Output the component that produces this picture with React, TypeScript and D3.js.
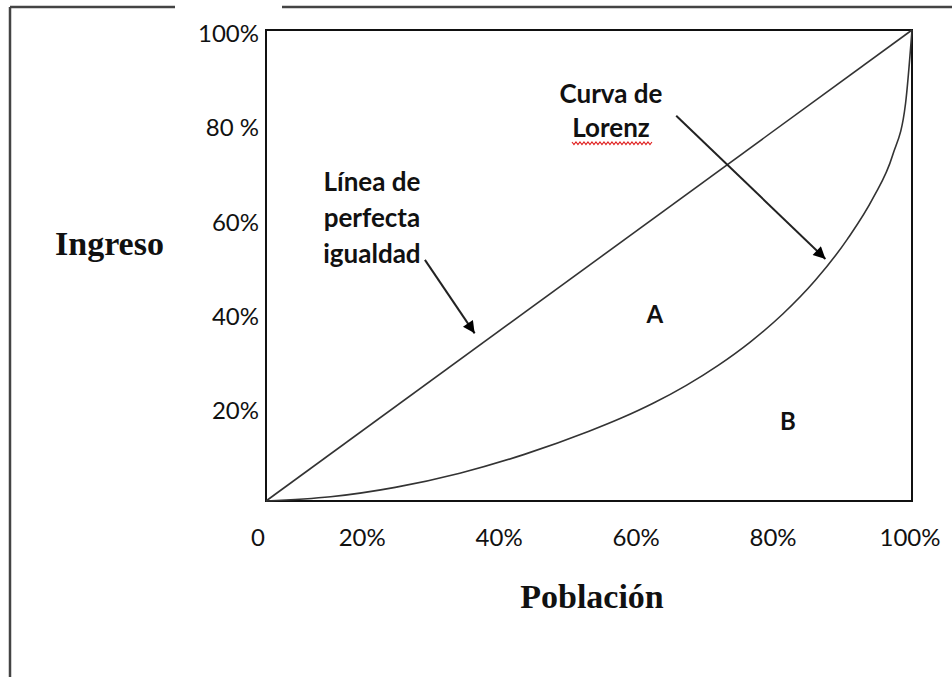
import React from "react";
import * as d3 from "d3";

// ---- data ----
const popShare = [0, 10, 20, 30, 40, 50, 55, 60, 65, 70, 75, 80, 85, 90, 94, 97, 99, 100];
const incomeShare = [0, 0.9, 2.9, 5.9, 9.9, 14.8, 17.6, 20.8, 24.5, 28.8, 33.8, 39.7, 46.8, 55.6, 64.4, 73.4, 84.4, 100];
const equality = [0, 100];

const yTickValues = [100, 80, 60, 40, 20];
const yTickLabels = ["100%", "80 %", "60%", "40%", "20%"];
const xTickValues = [0, 20, 40, 60, 80, 100];
const xTickLabels = ["0", "20%", "40%", "60%", "80%", "100%"];

// annotation texts (data coordinates in %)
const lorenzLabelLines = ["Curva de", "Lorenz"];
const equalityLabelLines = ["Línea de", "perfecta", "igualdad"];
const regionLabels = [
  { text: "A", x: 60.2, y: 37.8 },
  { text: "B", x: 80.8, y: 15.1 },
];
const arrows = [
  { x1: 63.5, y1: 81.8, x2: 86.6, y2: 51.4 },
  { x1: 24.6, y1: 51.2, x2: 32.3, y2: 35.6 },
];

const W = 952;
const H = 677;

export default function App() {
  const x = d3.scaleLinear().domain([0, 100]).range([266, 912]);
  const y = d3.scaleLinear().domain([0, 100]).range([501, 30]);
  // tick labels are placed slightly left of the true positions in the source
  const xLabel = d3.scaleLinear().domain([20, 100]).range([x(20) - 33, x(100) - 2]);

  const line = d3
    .line<[number, number]>()
    .x((d) => x(d[0]))
    .y((d) => y(d[1]))
    .curve(d3.curveMonotoneX);

  const lorenzPts: [number, number][] = popShare.map((p, i) => [p, incomeShare[i]]);
  const eqPts: [number, number][] = equality.map((p) => [p, p]);

  const calibri = "Lato, 'Open Sans', sans-serif";
  const serif = "'Liberation Serif', 'DejaVu Serif', serif";

  // wavy underline under "Lorenz"
  const lorCx = x(53.4);
  const lorBase = y(84.5) + 34;
  const wave: [number, number][] = [];
  for (let i = 0; i <= 40; i++) {
    const px = lorCx - 39 + i * 2;
    wave.push([px, lorBase + 5 + (i % 2 === 0 ? 0 : 2.5)]);
  }
  const wavePath = d3.line()(wave) || "";

  return (
    <svg
      width={W}
      height={H}
      style={{ position: "absolute", left: 0, top: 0, background: "#fff" }}
    >
      <defs>
        <marker
          id="ah"
          viewBox="0 0 10 10"
          refX="10"
          refY="5"
          markerWidth="15"
          markerHeight="12"
          markerUnits="userSpaceOnUse"
          orient="auto"
        >
          <path d="M0,0 L10,5 L0,10 Z" fill="#000" />
        </marker>
      </defs>
      <rect x={0} y={0} width={W} height={H} fill="#fff" />

      {/* outer frame */}
      <g stroke="#444" strokeWidth={2.5} fill="none">
        <line x1={10} y1={7} x2={10} y2={H} />
        <line x1={10} y1={7} x2={175} y2={7} />
        <line x1={282} y1={7} x2={W} y2={7} />
      </g>

      {/* plot box */}
      <rect
        x={x(0)}
        y={y(100)}
        width={x(100) - x(0)}
        height={y(0) - y(100)}
        fill="none"
        stroke="#111"
        strokeWidth={2}
      />

      {/* equality line */}
      <path d={line(eqPts) || ""} fill="none" stroke="#333" strokeWidth={1.6} />
      {/* Lorenz curve */}
      <path d={line(lorenzPts) || ""} fill="none" stroke="#333" strokeWidth={1.6} />

      {/* y tick labels */}
      <g fontFamily={calibri} fontSize={24} fill="#111" textAnchor="end">
        {yTickValues.map((v, i) => (
          <text key={v} x={x(0) - 7} y={y(v) + 3.5 + 8.6}>
            {yTickLabels[i]}
          </text>
        ))}
      </g>

      {/* x tick labels */}
      <g fontFamily={calibri} fontSize={24} fill="#111" textAnchor="middle">
        {xTickValues.map((v, i) => (
          <text key={v} x={v === 0 ? x(0) - 8 : xLabel(v)} y={y(0) + 36 + 8.6}>
            {xTickLabels[i]}
          </text>
        ))}
      </g>

      {/* axis titles */}
      <text
        x={55}
        y={255}
        fontFamily={serif}
        fontWeight="bold"
        fontSize={34}
        fill="#111"
      >
        Ingreso
      </text>
      <text
        x={592}
        y={608}
        fontFamily={serif}
        fontWeight="bold"
        fontSize={34}
        fill="#111"
        textAnchor="middle"
      >
        Población
      </text>

      {/* annotations */}
      <g fontFamily={calibri} fontWeight="bold" fontSize={26} fill="#111" textAnchor="middle">
        {lorenzLabelLines.map((t, i) => (
          <text key={t} x={lorCx} y={y(84.5) + i * 34}>
            {t}
          </text>
        ))}
        {equalityLabelLines.map((t, i) => (
          <text key={t} x={x(16.4)} y={y(65.9) + i * 36}>
            {t}
          </text>
        ))}
        {regionLabels.map((r) => (
          <text key={r.text} x={x(r.x)} y={y(r.y)} fontSize={24}>
            {r.text}
          </text>
        ))}
      </g>
      <path d={wavePath} fill="none" stroke="#e02020" strokeWidth={1.1} />

      {arrows.map((a, i) => (
        <line
          key={i}
          x1={x(a.x1)}
          y1={y(a.y1)}
          x2={x(a.x2)}
          y2={y(a.y2)}
          stroke="#222"
          strokeWidth={2}
          markerEnd="url(#ah)"
        />
      ))}
    </svg>
  );
}
